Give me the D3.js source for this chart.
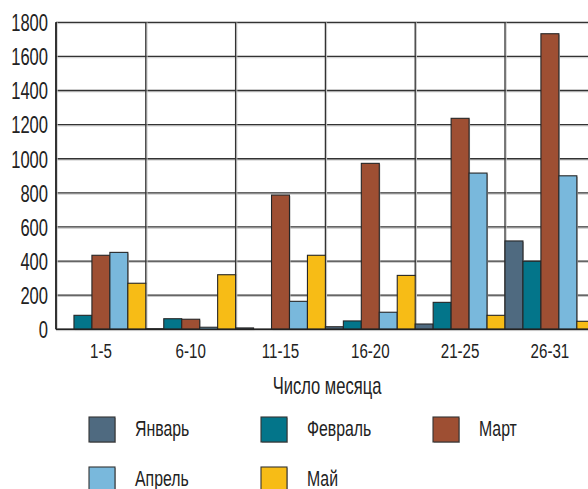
<!DOCTYPE html>
<html><head><meta charset="utf-8">
<script src="https://cdn.jsdelivr.net/npm/d3@7"></script>
<style>
html,body{margin:0;padding:0;background:#fff;}
svg{display:block;}
text{font-family:"Liberation Sans",Arial,sans-serif;fill:#222;}
</style></head>
<body><svg id="c" width="588" height="489"></svg>
<script>
const categories = ["1-5","6-10","11-15","16-20","21-25","26-31"];
const seriesNames = ["Январь","Февраль","Март","Апрель","Май"];
const jan = [0, 3, 8, 15, 31, 518];
const feb = [82, 62, 0, 49, 158, 399];
const mar = [434, 59, 787, 973, 1237, 1733];
const apr = [451, 12, 164, 100, 916, 900];
const may = [270, 320, 434, 316, 82, 47];
const yTicks = [0,200,400,600,800,1000,1200,1400,1600,1800];
const colors = ["#4f6a80","#03758a","#9e4f33","#79b8dc","#f7bc16"];
const xTitle = "Число месяца";

const series = [jan, feb, mar, apr, may];
const svg = d3.select("#c");
const left = 56, catW = 89.8, y0 = 329.3, yTop = 22.3;
const x = d3.scaleBand().domain(categories).range([left, left + catW*categories.length]).padding(0);
const xs = d3.scaleBand().domain(seriesNames).range([0, x.bandwidth()]).padding(0);
const y = d3.scaleLinear().domain([0,1800]).range([y0, yTop]);
const SX = 0.72;
const FONT = '"Liberation Sans",Arial,sans-serif';

// horizontal gridlines with faint shadow
const grid = svg.append("g");
yTicks.forEach(t => {
  grid.append("line").attr("x1", left).attr("x2", 588).attr("y1", y(t)+1.3).attr("y2", y(t)+1.3)
    .attr("stroke","#c8c8c8").attr("stroke-width",1);
  grid.append("line").attr("x1", left).attr("x2", 588).attr("y1", y(t)).attr("y2", y(t))
    .attr("stroke","#333").attr("stroke-width",1.3);
});
// vertical gridlines
categories.forEach((c,i) => {
  const xx = x(c);
  grid.append("line").attr("x1", xx+1.2).attr("x2", xx+1.2).attr("y1", yTop).attr("y2", y0)
    .attr("stroke","#c8c8c8").attr("stroke-width",1);
  grid.append("line").attr("x1", xx).attr("x2", xx).attr("y1", yTop).attr("y2", y0)
    .attr("stroke","#333").attr("stroke-width",1.3);
});

// bars
const bars = svg.append("g");
categories.forEach((c,ci) => {
  series.forEach((s,si) => {
    const v = s[ci];
    if (v <= 0) return;
    const bx = x(c) + xs(seriesNames[si]);
    bars.append("rect").attr("x", bx+1).attr("y", y(v)+1).attr("width", xs.bandwidth()).attr("height", y0 - y(v))
      .attr("fill","#bbb");
    bars.append("rect").attr("x", bx).attr("y", y(v)).attr("width", xs.bandwidth()).attr("height", y0 - y(v))
      .attr("fill", colors[si]).attr("stroke","#262626").attr("stroke-width",1.1);
  });
});

// axis baseline
svg.append("line").attr("x1", left).attr("x2", 588).attr("y1", y0).attr("y2", y0).attr("stroke","#222").attr("stroke-width",1.6);
svg.append("line").attr("x1", left).attr("x2", left).attr("y1", yTop).attr("y2", y0).attr("stroke","#222").attr("stroke-width",1.6);

// y axis
const ya = svg.append("g").attr("transform",`translate(${left},0)`)
  .call(d3.axisLeft(y).tickValues(yTicks).tickSize(0).tickPadding(8).tickFormat(d3.format("d")));
ya.select(".domain").remove();
ya.selectAll("text").style("font-size","23px").style("font-family",FONT)
  .attr("fill","#222").attr("x", -8/SX).attr("transform",`scale(${SX},1)`).attr("dy","0.36em");

// x axis
const xa = svg.append("g").attr("transform",`translate(0,${y0})`)
  .call(d3.axisBottom(x).tickSize(0).tickPadding(14));
xa.select(".domain").remove();
xa.selectAll(".tick text").style("font-size","21px").style("font-family",FONT)
  .attr("fill","#222").attr("transform",`scale(${SX},1)`).attr("dy","0.71em");

// x title
svg.append("text").attr("transform",`translate(327,394) scale(${SX},1)`).attr("text-anchor","middle")
  .style("font-size","23px").text(xTitle);

// legend
const legPos = [[89,417],[261,417],[433,417],[89,467],[261,467]];
seriesNames.forEach((n,i) => {
  const [lx,ly] = legPos[i];
  const g = svg.append("g");
  g.append("rect").attr("x",lx+1).attr("y",ly+1).attr("width",26).attr("height",25).attr("fill","#bbb");
  g.append("rect").attr("x",lx).attr("y",ly).attr("width",26).attr("height",25).attr("fill",colors[i])
    .attr("stroke","#333").attr("stroke-width",1.1);
  g.append("text").attr("transform",`translate(${lx+46},${ly+19}) scale(${SX},1)`)
    .style("font-size","22px").text(n);
});
</script></body></html>
